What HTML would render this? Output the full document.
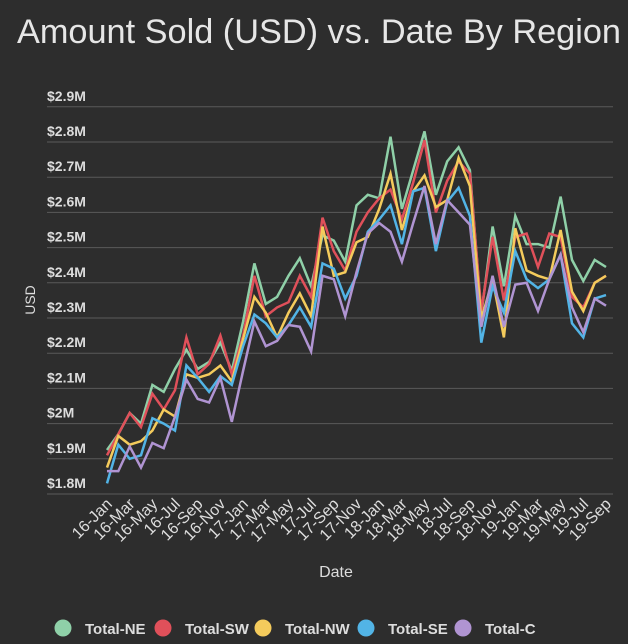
<!DOCTYPE html>
<html><head><meta charset="utf-8"><style>
html,body{margin:0;padding:0;background:#2d2d2d;}
svg{display:block;font-family:"Liberation Sans",sans-serif;}
</style></head><body>
<svg id="chart" width="628" height="644" viewBox="0 0 628 644">
<rect width="628" height="644" fill="#2d2d2d"/>
<text x="17" y="43" font-size="34" fill="#e6e6e6" textLength="604" lengthAdjust="spacingAndGlyphs">Amount Sold (USD) vs. Date By Region</text>
<g id="grid"></g><g id="yticks"></g><g id="xticks"></g><g id="lines"></g>
<text x="0" y="0" transform="translate(35,300) rotate(-90)" text-anchor="middle" font-size="14" fill="#dddddd">USD</text>
<text x="336" y="577" text-anchor="middle" font-size="16" fill="#dddddd">Date</text>
<g id="legend"></g>
</svg>
<script>
const months = ["Jan","Feb","Mar","Apr","May","Jun","Jul","Aug","Sep","Oct","Nov","Dec"];
const seriesNames = ["Total-NE","Total-SW","Total-NW","Total-SE","Total-C"];
const seriesColors = ["#8fd0a8","#e0505a","#f4cb5c","#52b4e6","#b094d2"];
const yTicks = [1.8,1.9,2.0,2.1,2.2,2.3,2.4,2.5,2.6,2.7,2.8,2.9];
const yTickLabels = ["$1.8M","$1.9M","$2M","$2.1M","$2.2M","$2.3M","$2.4M","$2.5M","$2.6M","$2.7M","$2.8M","$2.9M"];
const ne = [1.925,1.97,2.03,2.0,2.11,2.09,2.155,2.21,2.155,2.175,2.23,2.15,2.29,2.455,2.34,2.36,2.42,2.47,2.39,2.535,2.52,2.46,2.62,2.65,2.64,2.815,2.61,2.72,2.83,2.65,2.745,2.785,2.72,2.31,2.56,2.39,2.59,2.51,2.51,2.5,2.645,2.465,2.405,2.465,2.445];
const sw = [1.91,1.97,2.03,1.99,2.085,2.04,2.095,2.245,2.14,2.17,2.25,2.14,2.25,2.42,2.305,2.33,2.345,2.42,2.36,2.585,2.49,2.435,2.545,2.6,2.64,2.665,2.58,2.685,2.805,2.6,2.69,2.745,2.71,2.32,2.53,2.35,2.53,2.54,2.445,2.54,2.53,2.36,2.33,2.4,2.42];
const nw = [1.875,1.965,1.94,1.95,1.98,2.04,2.02,2.14,2.13,2.14,2.165,2.12,2.24,2.36,2.315,2.245,2.315,2.37,2.305,2.56,2.42,2.43,2.515,2.53,2.61,2.71,2.55,2.66,2.705,2.615,2.635,2.755,2.675,2.295,2.41,2.245,2.555,2.435,2.42,2.41,2.55,2.375,2.32,2.4,2.42];
const se = [1.83,1.94,1.9,1.91,2.015,2.0,1.98,2.165,2.13,2.09,2.135,2.11,2.22,2.31,2.285,2.245,2.28,2.33,2.275,2.455,2.44,2.355,2.42,2.545,2.58,2.62,2.51,2.66,2.67,2.49,2.63,2.67,2.59,2.23,2.39,2.315,2.49,2.41,2.385,2.41,2.48,2.285,2.245,2.355,2.365];
const c = [1.865,1.865,1.935,1.875,1.945,1.93,2.02,2.125,2.07,2.06,2.13,2.005,2.15,2.29,2.22,2.235,2.28,2.275,2.205,2.42,2.41,2.305,2.43,2.54,2.57,2.545,2.46,2.57,2.675,2.51,2.635,2.6,2.565,2.275,2.42,2.275,2.395,2.4,2.32,2.41,2.48,2.33,2.26,2.355,2.335];
const seriesData = [ne,sw,nw,se,c];

const NS="http://www.w3.org/2000/svg";
const X0=107, X1=606, GX0=47, GX1=613;
const n = ne.length;
function xS(i){return X0+(X1-X0)*i/(n-1);}
function yS(v){return 494-(v-1.8)*352;}
function mk(tag,attrs,parent){const e=document.createElementNS(NS,tag);for(const k in attrs)e.setAttribute(k,attrs[k]);parent.appendChild(e);return e;}

const grid=document.getElementById('grid'), yt=document.getElementById('yticks');
yTicks.forEach((v,k)=>{
  const l=mk('line',{x1:GX0,x2:GX1,y1:yS(v),y2:yS(v),stroke:'#5a5a5a','stroke-width':1},grid);
  
  
  const t=mk('text',{x:47,y:yS(v)-6,'font-size':14,'font-weight':'bold',fill:'#dddddd'},yt);
  t.textContent=yTickLabels[k];
  
  
});
const xt=document.getElementById('xticks');
for(let i=0;i<n;i+=2){
  const yr=16+Math.floor(i/12), m=months[i%12];
  const ex=xS(i)+6;
  const t=mk('text',{x:0,y:0,transform:`translate(${ex},${505}) rotate(-45)`,'text-anchor':'end','font-size':16,fill:'#dddddd'},xt);
  t.textContent=yr+'-'+m;
  
  
}
const lg=document.getElementById('lines');
seriesData.forEach((d,s)=>{
  const p=mk('polyline',{points:d.map((v,i)=>xS(i).toFixed(1)+','+yS(v).toFixed(1)).join(' '),fill:'none',stroke:seriesColors[s],'stroke-width':2.5,'stroke-linejoin':'miter'},lg);
  
  
});
const leg=document.getElementById('legend');
const legX=[63,163,263,366,463];
seriesNames.forEach((nm,s)=>{
  const g=mk('g',{},leg);
  
  
  mk('circle',{cx:legX[s],cy:628,r:8.5,fill:seriesColors[s]},g);
  const t=mk('text',{x:legX[s]+22,y:634,'font-size':15,'font-weight':'bold',fill:'#dddddd'},g);
  t.textContent=nm;
});
</script>
</body></html>
